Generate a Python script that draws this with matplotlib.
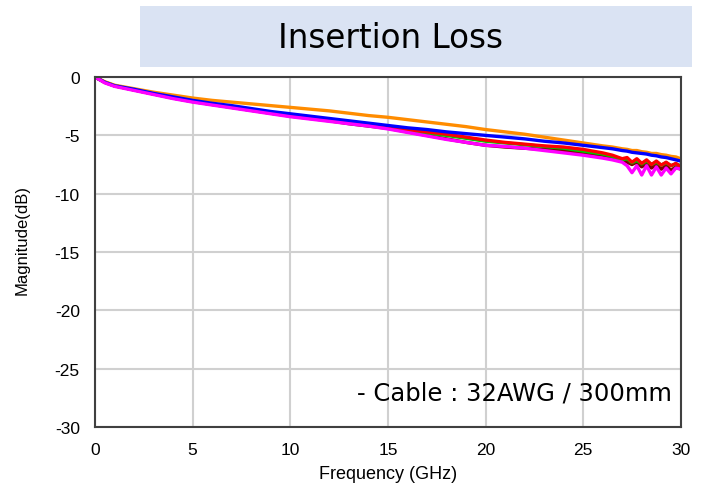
import numpy as np
import matplotlib
matplotlib.use("Agg")
import matplotlib.pyplot as plt
from matplotlib.patches import Rectangle

# _________________________________________________________________
# data (frequency in GHz, magnitude in dB)
freq_ghz = [0, 0.5, 1, 2, 3, 4, 5, 6, 7, 8, 9, 10, 11, 12, 13, 14, 15,
            16, 17, 18, 19, 20, 21, 22, 23, 24, 25, 26,
            26.5, 27, 27.25, 27.5, 27.75, 28, 28.25, 28.5, 28.75,
            29, 29.25, 29.5, 29.75, 30]

darkred_db = [0, -0.45, -0.75, -1.1, -1.45, -1.8, -2.1, -2.35, -2.6, -2.85,
              -3.1, -3.35, -3.55, -3.75, -4.0, -4.2, -4.4, -4.7, -5.0, -5.3,
              -5.6, -5.85, -6.0, -6.1, -6.2, -6.3, -6.5, -6.7,
              -6.9, -7.1, -7.3, -7.5, -7.3, -7.7, -7.4, -7.8, -7.5, -7.9,
              -7.6, -8.0, -7.7, -7.9]
green_db = [0, -0.45, -0.75, -1.1, -1.45, -1.8, -2.1, -2.35, -2.6, -2.85,
            -3.1, -3.3, -3.5, -3.7, -3.95, -4.15, -4.35, -4.55, -4.8, -5.0,
            -5.25, -5.5, -5.65, -5.8, -5.95, -6.1, -6.35, -6.6,
            -6.8, -7.1, -7.0, -7.35, -7.15, -7.45, -7.2, -7.5, -7.3, -7.55,
            -7.35, -7.6, -7.45, -7.6]
red_db = [0, -0.45, -0.75, -1.1, -1.45, -1.75, -2.05, -2.3, -2.55, -2.8,
          -3.05, -3.25, -3.45, -3.65, -3.9, -4.1, -4.3, -4.5, -4.7, -4.9,
          -5.15, -5.4, -5.6, -5.75, -5.9, -6.0, -6.2, -6.5,
          -6.7, -7.0, -6.9, -7.3, -7.0, -7.4, -7.1, -7.5, -7.2, -7.55,
          -7.3, -7.6, -7.4, -7.7]
orange_db = [0, -0.4, -0.7, -1.0, -1.3, -1.55, -1.8, -2.0, -2.15, -2.3,
             -2.45, -2.6, -2.75, -2.9, -3.1, -3.3, -3.45, -3.65, -3.85, -4.05,
             -4.25, -4.5, -4.7, -4.9, -5.15, -5.4, -5.65, -5.9,
             -6.0, -6.15, -6.2, -6.3, -6.3, -6.4, -6.45, -6.55, -6.55, -6.65,
             -6.7, -6.8, -6.85, -7.0]
blue_db = [0, -0.45, -0.75, -1.05, -1.4, -1.7, -2.0, -2.25, -2.45, -2.7,
           -2.95, -3.15, -3.35, -3.55, -3.75, -3.95, -4.15, -4.35, -4.5, -4.7,
           -4.85, -5.0, -5.15, -5.3, -5.5, -5.65, -5.85, -6.05,
           -6.15, -6.3, -6.35, -6.45, -6.5, -6.55, -6.6, -6.7, -6.75, -6.85,
           -6.9, -7.0, -7.1, -7.2]
magenta_db = [0, -0.5, -0.8, -1.15, -1.5, -1.85, -2.15, -2.4, -2.65, -2.9,
              -3.15, -3.4, -3.6, -3.8, -4.0, -4.2, -4.45, -4.75, -5.05, -5.35,
              -5.6, -5.85, -5.95, -6.1, -6.3, -6.5, -6.7, -6.95,
              -7.1, -7.3, -7.6, -8.2, -7.6, -8.4, -7.6, -8.4, -7.7, -8.4,
              -7.8, -8.3, -7.8, -7.9]

x_ticks = [0, 5, 10, 15, 20, 25, 30]
y_ticks = [0, -5, -10, -15, -20, -25, -30]

TITLE = "Insertion Loss"
NOTE = "- Cable : 32AWG / 300mm"
# _________________________________________________________________

series = [
    (darkred_db, "#800000"),
    (green_db, "#00C800"),
    (red_db, "#FF0000"),
    (orange_db, "#FF8C00"),
    (blue_db, "#0000FF"),
    (magenta_db, "#FF00FF"),
]

fig = plt.figure(figsize=(7.04, 4.89), dpi=100)
ax = fig.add_axes([0.135, 0.1247, 0.832, 0.7157])

for values, color in series:
    ax.plot(freq_ghz, values, color=color, linewidth=2.4, solid_joinstyle="round")

ax.set_xlim(0, 30)
ax.set_ylim(-30, 0)
ax.set_xticks(x_ticks)
ax.set_yticks(y_ticks)
ax.set_xticklabels([str(t) for t in x_ticks], family="Liberation Sans", fontsize=12.5)
ax.set_yticklabels([str(t) for t in y_ticks], family="Liberation Sans", fontsize=12.5)
ax.tick_params(axis="x", length=0, pad=11)
ax.tick_params(axis="y", length=0, pad=11)
ax.grid(True, color="#D0D0D0", linewidth=1.5)
ax.set_axisbelow(True)
for spine in ax.spines.values():
    spine.set_color("#404040")
    spine.set_linewidth(1.5)

# title banner
fig.patches.append(Rectangle((0.199, 0.861), 0.784, 0.1247, transform=fig.transFigure,
                             facecolor="#DAE3F3", edgecolor="none", zorder=0))
fig.text(0.554, 0.922, TITLE, ha="center", va="center", fontsize=23.5, family="DejaVu Sans")

fig.text(0.955, 0.196, NOTE, ha="right", va="center", fontsize=17.5, family="DejaVu Sans")

fig.text(0.031, 0.51, "Magnitude(dB)", rotation=90, ha="center", va="center",
         fontsize=12, family="Liberation Sans")
fig.text(0.551, 0.029, "Frequency (GHz)", ha="center", va="center",
         fontsize=13, family="Liberation Sans")

fig.savefig("out.png", dpi=100)
